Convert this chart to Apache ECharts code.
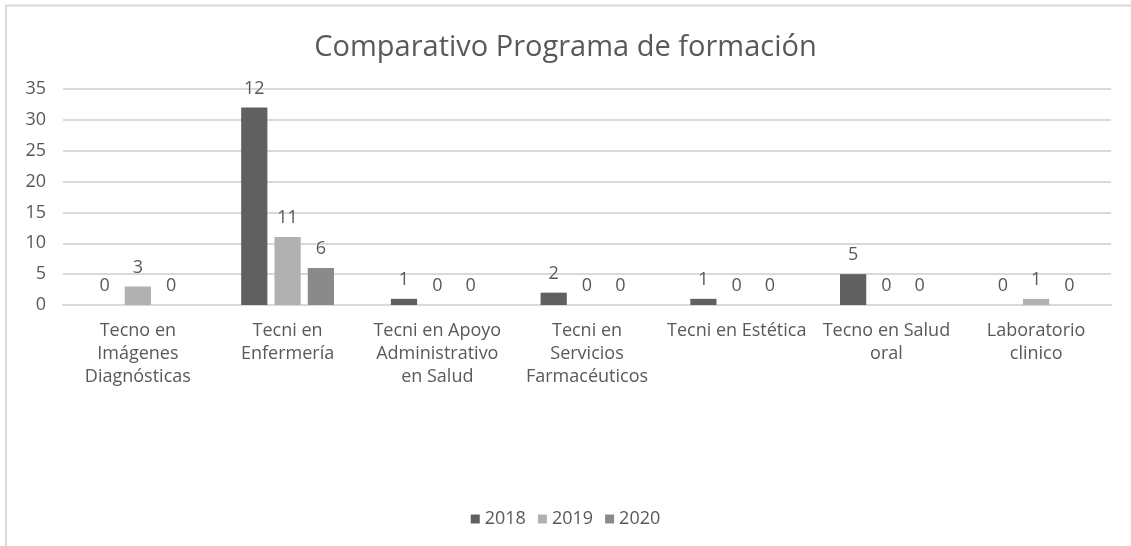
<!DOCTYPE html>
<html>
<head>
<meta charset="utf-8">
<script src="https://cdn.jsdelivr.net/npm/echarts@6/dist/echarts.min.js"></script>
<style>
  html, body { margin: 0; padding: 0; background: #fff; }
  #chart { width: 1131px; height: 546px; }
</style>
</head>
<body>
<div id="chart"></div>
<script>
var categories = [
  'Tecno en\nImágenes\nDiagnósticas',
  'Tecni en\nEnfermería',
  'Tecni en Apoyo\nAdministrativo\nen Salud',
  'Tecni en\nServicios\nFarmacéuticos',
  'Tecni en Estética',
  'Tecno en Salud\noral',
  'Laboratorio\nclinico'
];
var years = ['2018', '2019', '2020'];
// bar heights as drawn
var values2018 = [0, 32, 1, 2, 1, 5, 0];
var values2019 = [3, 11, 0, 0, 0, 0, 1];
var values2020 = [0, 6, 0, 0, 0, 0, 0];
// data labels as printed (2018 label on Enfermería reads 12)
var labels2018 = [0, 12, 1, 2, 1, 5, 0];
var labels2019 = [3, 11, 0, 0, 0, 0, 1];
var labels2020 = [0, 6, 0, 0, 0, 0, 0];
var colors = ['#606060', '#b1b1b1', '#8a8a8a'];

var font = '"Open Sans", sans-serif';
var textColor = '#595959';

function makeSeries(name, vals, labs, color) {
  return {
    name: name,
    type: 'bar',
    data: vals,
    barGap: '27%',
    barCategoryGap: '38%',
    itemStyle: { color: color },
    label: {
      show: true,
      position: 'top',
      distance: 10,
      color: textColor,
      fontFamily: font,
      fontSize: 18,
      formatter: function (p) { return labs[p.dataIndex]; }
    }
  };
}

var chart = echarts.init(document.getElementById('chart'));
chart.setOption({
  animation: false,
  backgroundColor: '#fff',
  graphic: [{
    type: 'polyline',
    shape: { points: [[6, 546], [6, 5.5], [1131, 5.5]] },
    style: { stroke: '#d9d9d9', lineWidth: 2, fill: null }
  }],
  title: {
    text: 'Comparativo Programa de formación',
    left: 'center',
    top: 28,
    textStyle: { color: textColor, fontFamily: font, fontSize: 29, fontWeight: 'normal' }
  },
  legend: {
    bottom: 13,
    left: 'center',
    itemWidth: 9,
    itemHeight: 9,
    itemGap: 12,
    itemStyle: { borderWidth: 0 },
    icon: 'rect',
    data: years,
    textStyle: { color: textColor, fontFamily: font, fontSize: 18 }
  },
  grid: { left: 63, right: 20, top: 89, bottom: 241, containLabel: false },
  xAxis: {
    type: 'category',
    data: categories,
    axisTick: { show: false },
    axisLine: { lineStyle: { color: '#d9d9d9', width: 2 } },
    axisLabel: {
      color: textColor, fontFamily: font, fontSize: 18,
      lineHeight: 23, margin: 14, interval: 0
    }
  },
  yAxis: {
    type: 'value',
    min: 0, max: 35, interval: 5,
    axisLine: { show: false },
    axisTick: { show: false },
    splitLine: { lineStyle: { color: '#d9d9d9', width: 2 } },
    axisLabel: { color: textColor, fontFamily: font, fontSize: 18, margin: 17 }
  },
  series: [
    makeSeries(years[0], values2018, labels2018, colors[0]),
    makeSeries(years[1], values2019, labels2019, colors[1]),
    makeSeries(years[2], values2020, labels2020, colors[2])
  ]
});
</script>
</body>
</html>
